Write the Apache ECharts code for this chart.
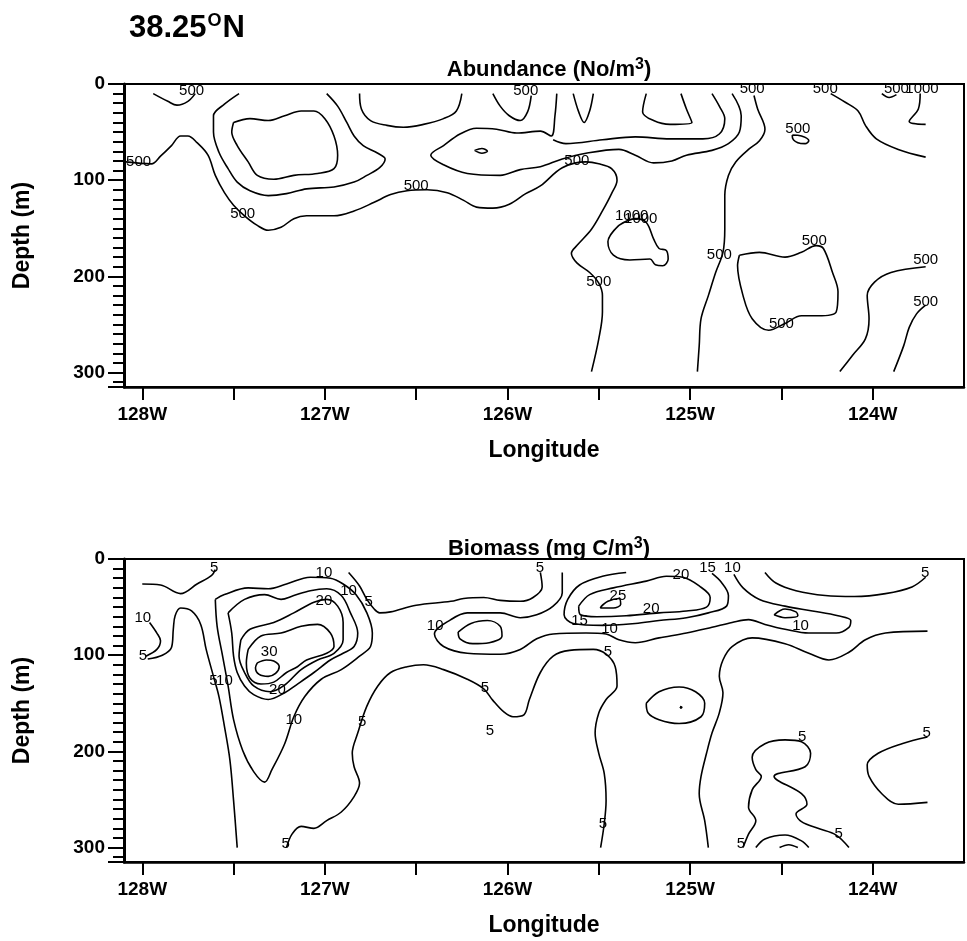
<!DOCTYPE html>
<html>
<head>
<meta charset="utf-8">
<script src="https://cdn.jsdelivr.net/npm/echarts@6/dist/echarts.min.js"></script>
<style>
  html, body { margin: 0; background: #fff; }
  #chart { width: 967px; height: 941px; }
</style>
</head>
<body>
<div id="chart"></div>
<script>
// longitude in degrees W, depth in m
const lonTicks = [128, 127, 126, 125, 124];
const depthTicks = [0, 100, 200, 300];

// Abundance (No/m3) contour lines, [lonW, depth]
const abundanceLines = [
  [[127.94,10],[127.86,18],[127.81,22],[127.75,18],[127.71,10]],
  [[128.09,81],[127.95,83],[127.90,75],[127.84,64],[127.79,54],[127.75,54],[127.70,61],[127.64,74],[127.60,95],[127.55,113],[127.50,126],[127.44,137],[127.37,147],[127.31,152],[127.24,149],[127.17,140],[127.10,137],[126.95,137],[126.84,132],[126.73,123],[126.64,115],[126.55,111],[126.44,110],[126.33,113],[126.24,121],[126.17,128],[126.08,129],[125.99,125],[125.90,114],[125.82,106],[125.70,87],[125.57,81],[125.50,83],[125.43,88],[125.40,100],[125.43,114],[125.48,132],[125.54,151],[125.62,168],[125.65,176],[125.62,186],[125.55,196],[125.50,207],[125.48,220],[125.48,237],[125.50,265],[125.54,299]],
  [[127.47,10],[127.55,21],[127.61,33],[127.61,50],[127.58,71],[127.53,88],[127.48,102],[127.41,111],[127.31,116],[127.21,114],[127.10,109],[126.95,107],[126.84,102],[126.77,95],[126.70,87],[126.67,78],[126.71,72],[126.79,64],[126.84,54],[126.88,40],[126.93,23],[126.99,10]],
  [[127.50,40],[127.41,36],[127.31,38],[127.22,33],[127.13,28],[127.06,28],[127.00,36],[126.95,54],[126.93,74],[126.95,88],[127.04,93],[127.17,95],[127.28,99],[127.37,95],[127.42,81],[127.48,64],[127.51,50],[127.50,40]],
  [[126.81,10],[126.80,26],[126.75,38],[126.66,43],[126.57,45],[126.46,42],[126.35,36],[126.28,28],[126.25,10]],
  [[126.08,10],[126.04,23],[125.99,33],[125.93,38],[125.89,29],[125.87,12]],
  [[125.73,10],[125.74,33],[125.76,54],[125.82,49],[125.95,51],[126.06,47],[126.17,46],[126.26,52],[126.35,64],[126.42,74],[126.35,84],[126.22,93],[126.04,95],[125.93,89],[125.82,86],[125.70,78],[125.57,72],[125.39,68],[125.30,74],[125.20,82],[125.10,80],[125.02,74],[124.88,69],[124.79,62],[124.73,50],[124.72,33],[124.77,10]],
  [[125.75,58],[125.68,62],[125.48,58],[125.30,55],[125.11,57],[124.93,57],[124.84,52],[124.81,36],[124.84,23],[124.88,10]],
  [[126.18,69],[126.14,67],[126.11,70],[126.14,72],[126.18,69]],
  [[125.64,10],[125.61,29],[125.58,40],[125.55,28],[125.53,10]],
  [[125.24,10],[125.26,29],[125.20,38],[125.11,42],[124.99,40],[125.02,26],[125.05,10]],
  [[124.65,12],[124.63,26],[124.59,47],[124.62,59],[124.68,68],[124.75,81],[124.79,95],[124.81,116],[124.81,151],[124.82,175],[124.86,196],[124.90,220],[124.94,244],[124.95,272],[124.96,299]],
  [[124.44,53],[124.39,54],[124.35,59],[124.37,62],[124.41,61],[124.44,55],[124.44,53]],
  [[124.23,10],[124.15,19],[124.08,28],[124.04,43],[123.98,57],[123.86,68],[123.71,76]],
  [[123.95,10],[123.91,14],[123.87,11]],
  [[123.74,10],[123.75,26],[123.80,39],[123.71,42]],
  [[125.39,147],[125.30,140],[125.24,144],[125.20,161],[125.17,171],[125.13,173],[125.12,182],[125.15,189],[125.19,188],[125.22,182],[125.33,183],[125.42,178],[125.45,164],[125.39,147]],
  [[124.73,178],[124.62,175],[124.48,180],[124.39,175],[124.31,168],[124.27,171],[124.22,196],[124.19,216],[124.20,237],[124.30,241],[124.39,241],[124.48,249],[124.57,256],[124.66,244],[124.71,220],[124.74,189],[124.73,178]],
  [[123.71,190],[123.90,196],[123.99,206],[124.03,220],[124.02,244],[124.04,265],[124.11,282],[124.18,299]],
  [[123.71,230],[123.76,239],[123.80,253],[123.83,272],[123.885,299]]
];
const abundanceLabels = [
  [127.73,7,'500'],[128.02,81,'500'],[127.45,135,'500'],[126.50,106,'500'],[125.90,7,'500'],
  [125.62,80,'500'],[125.32,137,'1000'],[125.27,140,'1000'],[125.50,206,'500'],[124.66,5,'500'],
  [124.26,5,'500'],[123.87,5,'500'],[123.73,5,'1000'],[124.41,47,'500'],[124.84,178,'500'],
  [124.32,163,'500'],[124.50,249,'500'],[123.71,183,'500'],[123.71,227,'500']
];

// Biomass (mg C/m3) contour lines, [lonW, depth]
const biomassLines = [
  [[128.0,26],[127.90,27],[127.79,36],[127.70,26],[127.62,17],[127.60,11]],
  [[127.96,66],[127.92,77],[127.90,85],[127.92,94],[127.98,101]],
  [[127.97,104],[127.89,100],[127.84,92],[127.83,73],[127.82,59],[127.79,51],[127.73,54],[127.68,68],[127.65,94],[127.61,122],[127.58,143],[127.55,174],[127.52,209],[127.50,251],[127.48,300]],
  [[127.60,42],[127.55,37],[127.42,30],[127.31,31],[127.21,26],[127.08,19],[126.97,20],[126.90,26],[126.83,37],[126.77,56],[126.74,77],[126.75,91],[126.81,101],[126.91,115],[127.02,125],[127.11,143],[127.17,164],[127.22,192],[127.29,219],[127.33,232],[127.39,221],[127.45,199],[127.50,167],[127.53,132],[127.56,101],[127.59,70],[127.60,42]],
  [[127.53,56],[127.44,42],[127.33,37],[127.24,42],[127.17,38],[127.08,33],[126.99,31],[126.91,38],[126.86,56],[126.82,77],[126.84,91],[126.90,98],[126.97,105],[127.06,118],[127.15,130],[127.22,139],[127.31,146],[127.39,141],[127.44,132],[127.48,118],[127.50,101],[127.51,77],[127.53,56]],
  [[127.46,84],[127.41,73],[127.28,66],[127.17,56],[127.06,45],[126.99,42],[126.93,49],[126.90,66],[126.90,84],[126.95,98],[127.04,105],[127.13,115],[127.22,131],[127.30,138],[127.39,132],[127.44,118],[127.47,101],[127.46,84]],
  [[127.42,94],[127.35,80],[127.24,77],[127.13,70],[127.04,68],[126.97,77],[126.95,91],[126.99,98],[127.10,105],[127.15,112],[127.21,118],[127.28,128],[127.35,130],[127.41,124],[127.43,108],[127.42,94]],
  [[127.37,108],[127.32,105],[127.28,106],[127.25,112],[127.27,119],[127.31,122],[127.36,120],[127.38,113],[127.37,108]],
  [[126.87,14],[126.81,28],[126.77,42],[126.73,52],[126.70,56],[126.64,55],[126.50,48],[126.31,44],[126.24,41],[126.13,40],[126.04,43],[125.93,44],[125.86,40],[125.81,29],[125.82,14]],
  [[125.70,14],[125.70,35],[125.75,49],[125.84,58],[125.93,61],[126.04,56],[126.22,56],[126.31,63],[126.40,78],[126.35,91],[126.22,98],[126.04,99],[125.93,94],[125.84,83],[125.75,78],[125.57,77],[125.46,78],[125.39,84],[125.30,87],[125.17,82],[125.02,77],[124.88,71],[124.77,66],[124.68,63],[124.59,68],[124.48,73],[124.35,77],[124.20,77],[124.13,71],[124.12,64],[124.19,59],[124.33,54],[124.48,49],[124.62,42],[124.71,30],[124.76,16]],
  [[126.27,76],[126.20,67],[126.11,64],[126.04,70],[126.03,80],[126.10,87],[126.19,88],[126.26,83],[126.27,76]],
  [[125.35,14],[125.48,18],[125.605,27],[125.67,42],[125.69,58],[125.64,67],[125.48,69],[125.30,67],[125.17,64],[125.02,61],[124.90,56],[124.80,49],[124.79,38],[124.83,24],[124.88,15]],
  [[125.61,49],[125.55,37],[125.42,30],[125.24,23],[125.13,18],[125.04,19],[124.95,28],[124.89,40],[124.91,50],[125.02,54],[125.17,56],[125.35,59],[125.51,60],[125.60,58],[125.61,49]],
  [[125.49,50],[125.45,44],[125.39,41],[125.38,47],[125.42,51],[125.49,51],[125.49,50]],
  [[124.54,58],[124.48,52],[124.42,55],[124.41,59],[124.48,61],[124.54,58]],
  [[127.21,300],[127.18,286],[127.13,278],[127.06,280],[126.99,272],[126.91,263],[126.84,247],[126.81,233],[126.84,216],[126.85,202],[126.82,181],[126.77,153],[126.71,132],[126.64,118],[126.55,112],[126.46,110],[126.35,115],[126.22,125],[126.13,135],[126.08,147],[126.02,159],[125.97,164],[125.91,162],[125.88,146],[125.82,118],[125.75,101],[125.66,95],[125.53,94],[125.46,99],[125.41,112],[125.40,132],[125.46,146],[125.50,160],[125.52,181],[125.50,202],[125.47,223],[125.46,251],[125.47,275],[125.49,300]],
  [[123.70,75],[123.93,77],[124.04,84],[124.13,97],[124.24,105],[124.35,98],[124.48,88],[124.66,82],[124.77,91],[124.82,105],[124.84,122],[124.82,139],[124.84,160],[124.88,181],[124.91,202],[124.94,226],[124.95,244],[124.92,272],[124.90,300]],
  [[125.24,150],[125.17,138],[125.06,133],[124.97,138],[124.92,150],[124.94,164],[125.06,171],[125.17,167],[125.23,160],[125.24,150]],
  [[125.055,153.5],[125.045,154],[125.05,155],[125.055,153.5]],
  [[124.71,300],[124.68,286],[124.64,272],[124.68,258],[124.66,240],[124.61,226],[124.64,219],[124.66,206],[124.59,192],[124.48,188],[124.39,190],[124.34,202],[124.37,216],[124.54,226],[124.39,244],[124.36,255],[124.42,265],[124.39,273],[124.30,280],[124.20,287],[124.13,300]],
  [[124.64,300],[124.59,291],[124.48,287],[124.39,293],[124.35,300]],
  [[124.51,300],[124.46,297],[124.41,300]],
  [[123.70,185],[123.84,192],[123.97,202],[124.03,214],[124.02,226],[123.95,244],[123.86,255],[123.70,253]],
  [[124.59,14],[124.53,25],[124.42,33],[124.26,38],[124.10,39],[123.93,36],[123.785,29],[123.71,19]]
];
const biomassLabels = [
  [127.606,9,'5'],[127.997,61,'10'],[127.997,101,'5'],[127.61,127,'5'],[127.55,127,'10'],
  [127.305,97,'30'],[127.26,136,'20'],[127.17,167,'10'],[127.005,14,'10'],[127.005,44,'20'],
  [126.87,33,'10'],[126.76,45,'5'],[126.396,70,'10'],[126.796,169,'5'],[126.123,134,'5'],
  [126.096,179,'5'],[127.214,296,'5'],[125.823,9,'5'],[125.05,16,'20'],[124.904,9,'15'],
  [124.768,9,'10'],[125.395,38,'25'],[125.213,52,'20'],[125.605,64,'15'],[125.441,73,'10'],
  [124.395,70,'10'],[125.45,97,'5'],[123.713,14,'5'],[125.477,275,'5'],[124.386,185,'5'],
  [124.722,296,'5'],[124.186,286,'5'],[123.704,181,'5']
];

const FONT = 'Liberation Sans, Arial, sans-serif';

function xAxisFor(i) {
  return {
    type: 'value', gridIndex: i, position: 'bottom', inverse: true,
    min: 123.5, max: 128.1, interval: 0.5,
    name: 'Longitude', nameLocation: 'middle', nameGap: 52,
    nameTextStyle: { fontFamily: FONT, fontWeight: 'bold', fontSize: 23, color: '#000' },
    axisLine: { onZero: false, lineStyle: { color: '#000', width: 2.5 } },
    axisTick: { inside: false, length: 13, lineStyle: { color: '#000', width: 2 } },
    axisLabel: {
      margin: 18, fontFamily: FONT, fontWeight: 'bold', fontSize: 19, color: '#000',
      showMinLabel: false, showMaxLabel: false,
      formatter: v => lonTicks.includes(v) ? v + 'W' : ''
    },
    splitLine: { show: false }
  };
}
function yAxisFor(i) {
  return {
    type: 'value', gridIndex: i, position: 'left', inverse: true, min: 0, max: 315, interval: 100,
    name: 'Depth (m)', nameLocation: 'middle', nameGap: 90, nameRotate: 90,
    nameTextStyle: { fontFamily: FONT, fontWeight: 'bold', fontSize: 23, color: '#000' },
    axisLine: { onZero: false, lineStyle: { color: '#000', width: 3 } },
    axisTick: { inside: false, length: 16, lineStyle: { color: '#000', width: 2 } },
    minorTick: { show: true, splitNumber: 10, length: 11, lineStyle: { color: '#000', width: 2 } },
    axisLabel: {
      margin: 19, fontFamily: FONT, fontWeight: 'bold', fontSize: 19, color: '#000',
      formatter: v => depthTicks.includes(v) ? String(v) : ''
    },
    splitLine: { show: false }
  };
}
function lineSeries(lines, i) {
  return lines.map(pts => ({
    type: 'line', xAxisIndex: i, yAxisIndex: i, data: pts,
    symbol: 'none', smooth: 0.35, silent: true, animation: false,
    lineStyle: { color: '#000', width: 1.6 }
  }));
}
function labelSeries(labels, i) {
  return {
    type: 'scatter', xAxisIndex: i, yAxisIndex: i, data: labels, symbolSize: 0,
    silent: true, animation: false, itemStyle: { color: '#000', opacity: 1 },
    label: {
      show: true, position: [0, 0], align: 'center', verticalAlign: 'middle',
      formatter: p => p.value[2], opacity: 1,
      fontFamily: FONT, fontSize: 15, color: '#000', textBorderWidth: 0
    }
  };
}

const chart = echarts.init(document.getElementById('chart'));
chart.setOption({
  backgroundColor: '#fff',
  animation: false,
  title: [
    {
      text: '{a|38.25}{s|O}{a|N}', left: 124, top: 7,
      textStyle: { rich: {
        a: { fontFamily: FONT, fontWeight: 'bold', fontSize: 31, color: '#000' },
        s: { fontFamily: FONT, fontWeight: 'bold', fontSize: 18, color: '#000', padding: [0, 1, 14, 1] }
      } }
    },
    {
      text: '{a|Abundance (No/m}{s|3}{a|)}', left: 544, top: 52, textAlign: 'center',
      textStyle: { rich: {
        a: { fontFamily: FONT, fontWeight: 'bold', fontSize: 22, color: '#000' },
        s: { fontFamily: FONT, fontWeight: 'bold', fontSize: 16, color: '#000', padding: [0, 0, 10, 0] }
      } }
    },
    {
      text: '{a|Biomass (mg C/m}{s|3}{a|)}', left: 544, top: 531, textAlign: 'center',
      textStyle: { rich: {
        a: { fontFamily: FONT, fontWeight: 'bold', fontSize: 22, color: '#000' },
        s: { fontFamily: FONT, fontWeight: 'bold', fontSize: 16, color: '#000', padding: [0, 0, 10, 0] }
      } }
    }
  ],
  grid: [
    { left: 124, top: 84, width: 840, height: 303, show: true, borderColor: '#000', borderWidth: 2 },
    { left: 124, top: 559, width: 840, height: 303, show: true, borderColor: '#000', borderWidth: 2 }
  ],
  xAxis: [xAxisFor(0), xAxisFor(1)],
  yAxis: [yAxisFor(0), yAxisFor(1)],
  series: [
    ...lineSeries(abundanceLines, 0), labelSeries(abundanceLabels, 0),
    ...lineSeries(biomassLines, 1), labelSeries(biomassLabels, 1)
  ]
});
</script>
</body>
</html>
